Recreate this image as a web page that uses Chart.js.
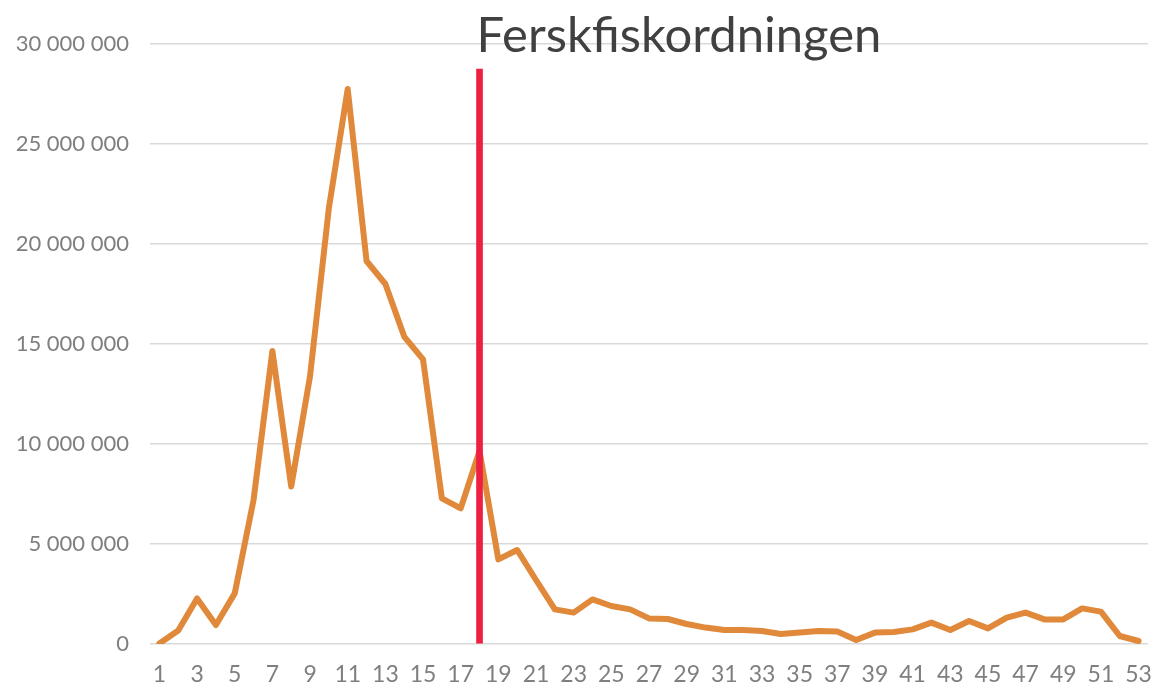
<!DOCTYPE html>
<html>
<head>
<meta charset="utf-8">
<script src="https://cdn.jsdelivr.net/npm/chart.js@4"></script>
<style>
html,body{margin:0;padding:0;background:#fff;}
canvas{display:block;}
</style>
</head>
<body>
<canvas id="c" width="1155" height="685"></canvas>
<script>
const weeks = ['1','2','3','4','5','6','7','8','9','10','11','12','13','14','15','16','17','18','19','20','21','22','23','24','25','26','27','28','29','30','31','32','33','34','35','36','37','38','39','40','41','42','43','44','45','46','47','48','49','50','51','52','53'];
const volumes = [30000, 670000, 2280000, 950000, 2530000, 7200000, 14650000, 7870000, 13400000, 21800000,
  27750000, 19150000, 18000000, 15370000, 14230000, 7280000, 6780000, 9650000, 4230000, 4700000,
  3200000, 1730000, 1570000, 2230000, 1900000, 1730000, 1280000, 1250000, 1000000, 820000,
  700000, 700000, 650000, 500000, 580000, 650000, 620000, 200000, 570000, 600000,
  730000, 1070000, 700000, 1150000, 780000, 1320000, 1570000, 1230000, 1230000, 1780000,
  1620000, 400000, 150000];
const markerWeek = '18';
const markerHeight = 28750000;
const markerValues = weeks.map(w => w === markerWeek ? markerHeight : null);
const yTicks = [0, 5000000, 10000000, 15000000, 20000000, 25000000, 30000000];
const titleText = 'Ferskfiskordningen';

const xFont = {family: "'Lato', sans-serif", size: 23};
const yFont = {family: "'Lato', sans-serif", size: 22};

function fmt(v) {
  return String(v).replace(/\B(?=(\d{3})+(?!\d))/g, '\u00A0');
}

const titlePlugin = {
  id: 'titleText',
  afterDraw(chart) {
    const ctx = chart.ctx;
    const x = chart.scales.x.getPixelForValue(weeks.indexOf(markerWeek));
    ctx.save();
    ctx.font = "49px 'Lato', sans-serif";
    ctx.fillStyle = '#404040';
    ctx.textAlign = 'left';
    ctx.textBaseline = 'alphabetic';
    ctx.fillText(titleText, x - 3, 52);
    ctx.restore();
  }
};

new Chart(document.getElementById('c'), {
  data: {
    labels: weeks,
    datasets: [
      {
        type: 'bar',
        label: 'Ferskfiskordningen',
        data: markerValues,
        backgroundColor: '#EE1F43',
        barThickness: 6,
        order: 0
      },
      {
        type: 'line',
        label: 'Volum',
        data: volumes,
        borderColor: '#E0893B',
        borderWidth: 6,
        borderJoinStyle: 'round',
        borderCapStyle: 'round',
        tension: 0,
        pointRadius: 0,
        fill: false,
        order: 1
      }
    ]
  },
  options: {
    responsive: false,
    animation: false,
    layout: {padding: {top: 44, right: 7, left: 0, bottom: 0}},
    plugins: {legend: {display: false}, tooltip: {enabled: false}, title: {display: false}},
    scales: {
      x: {
        type: 'category',
        offset: true,
        grid: {display: false, drawTicks: false},
        border: {display: false},
        ticks: {
          autoSkip: false,
          maxRotation: 0,
          minRotation: 0,
          color: '#7F7F7F',
          font: xFont,
          padding: 17,
          callback: function(val, i) { return i % 2 === 0 ? weeks[i] : ''; }
        },
        afterFit(s) { s.height = 41; s.paddingLeft = 0; s.paddingRight = 0; }
      },
      y: {
        min: 0,
        max: 30000000,
        afterBuildTicks(s) { s.ticks = yTicks.map(v => ({value: v})); },
        grid: {color: '#D9D9D9', lineWidth: 1.5, drawTicks: false},
        border: {display: false},
        ticks: {
          color: '#7F7F7F',
          font: yFont,
          padding: 21,
          callback: v => fmt(v)
        },
        afterFit(s) { s.width = 150; }
      }
    }
  },
  plugins: [titlePlugin]
});
</script>
</body>
</html>
